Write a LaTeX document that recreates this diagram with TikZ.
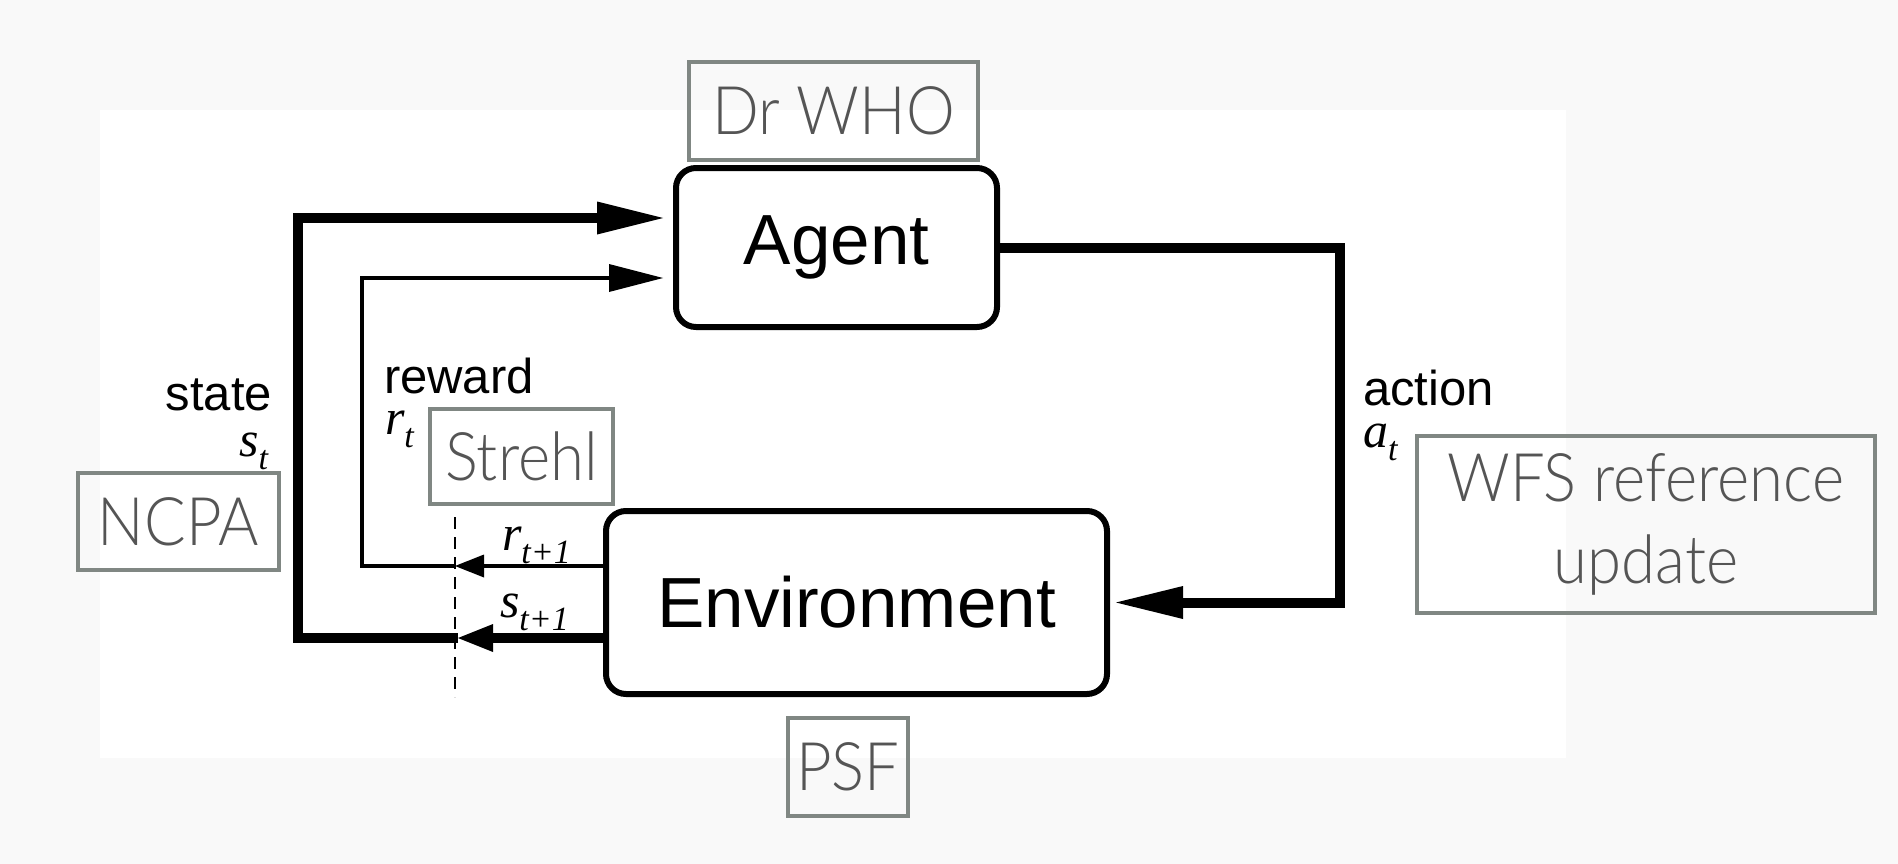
\documentclass[tikz,border=0pt]{standalone}
\usepackage{fontspec}
\setmainfont{Liberation Sans}
\newfontfamily\gill{Lato}[UprightFont={* Light}, FakeStretch=0.92]
\newfontfamily\tempos{Liberation Serif}
\usetikzlibrary{arrows.meta}
\definecolor{cinza}{HTML}{808783}
\definecolor{cinzatexto}{HTML}{555555}
\definecolor{fundo}{HTML}{F9F9F9}
\newcommand{\simb}[2]{{\tempos\itshape #1}\raisebox{-0.26em}{\fontsize{34}{34}\selectfont\tempos\itshape #2}}

\begin{document}
\begin{tikzpicture}[
  x=1pt, y=-1pt,
  every node/.style={inner sep=0pt, outer sep=0pt}
]
\tikzset{
  bloco/.style={draw, line width=6pt, rounded corners=20pt, font=\fontsize{71}{80}\selectfont},
  etiqueta/.style={draw=cinza, line width=4pt, text=cinzatexto, align=center, font=\gill\fontsize{67}{82}\selectfont},
  rotulo/.style={font=\fontsize{49}{55}\selectfont},
  simbolo/.style={font=\fontsize{50}{55}\selectfont},
  grossa/.style={line width=10pt},
  fina/.style={line width=4.5pt},
  tracejada/.style={line width=2pt, dash pattern=on 12pt off 8pt}
}
\fill[fundo] (0,0) rectangle (1898,864);
\fill[white] (100,110) rectangle (1566,758);

\node[bloco, minimum width=321pt, minimum height=159pt] (agente) at (836.5,247.5) {Agent};
\node[bloco, minimum width=501pt, minimum height=183pt] (ambiente) at (856.5,602.5) {Environment};

\node[etiqueta, minimum width=289pt, minimum height=98pt] (drwho) at (833.5,111) {Dr WHO};
\node[etiqueta, minimum width=201pt, minimum height=97pt] (ncpa) at (178.5,521.5) {NCPA};
\node[etiqueta, minimum width=183pt, minimum height=95pt] (strehl) at (521.5,456.5) {Strehl};
\node[etiqueta, minimum width=458pt, minimum height=177pt] (wfs) at (1646,524) {WFS reference\\update};
\node[etiqueta, minimum width=120pt, minimum height=98pt] (psf) at (848,767) {PSF};

\node[rotulo, anchor=base east] (estado) at (272,410) {state};
\node[simbolo, anchor=base east] (st) at (268,456) {\simb{s}{t}};
\node[rotulo, anchor=base west] (recompensa) at (384,393) {reward};
\node[simbolo, anchor=base west] (rt) at (385,434) {\simb{r}{t}};
\node[rotulo, anchor=base west] (acao) at (1363,405) {action};
\node[simbolo, anchor=base west] (acaot) at (1363,447) {\simb{a}{t}};
\node[simbolo, anchor=base west] (rt1) at (502,550) {\simb{r}{t+1}};
\node[simbolo, anchor=base west] (st1) at (500,617) {\simb{s}{t+1}};

\coordinate (sdash) at (458,638);
\coordinate (rdash) at (455,566);
\coordinate (sesq) at (298,218);
\coordinate (resq) at (362,278);
\coordinate (adir) at (1340,420);
\coordinate (dtopo) at (455,517);
\coordinate (dbase) at (455,697);

% estado e recompensa
\draw[grossa, -{Triangle[length=35pt, width=28pt, line width=0pt]}] (ambiente.west |- sdash) -- (sdash);
\draw[grossa, -{Triangle[length=66pt, width=33pt, line width=0pt]}, shorten >=13pt] (sdash) -| (sesq) -- (sesq -| agente.west);
\draw[fina, -{Triangle[length=29pt, width=23pt, line width=0pt]}] (ambiente.west |- rdash) -- (rdash);
\draw[fina, -{Triangle[length=54pt, width=28pt, line width=0pt]}, shorten >=13pt] (rdash) -| (resq) -- (resq -| agente.west);
% acao
\draw[grossa, -{Triangle[length=67pt, width=33pt, line width=0pt]}, shorten >=9pt] (agente.east) -| (adir) |- (ambiente.east);
\draw[tracejada] (dtopo) -- (dbase);
\end{tikzpicture}
\end{document}
